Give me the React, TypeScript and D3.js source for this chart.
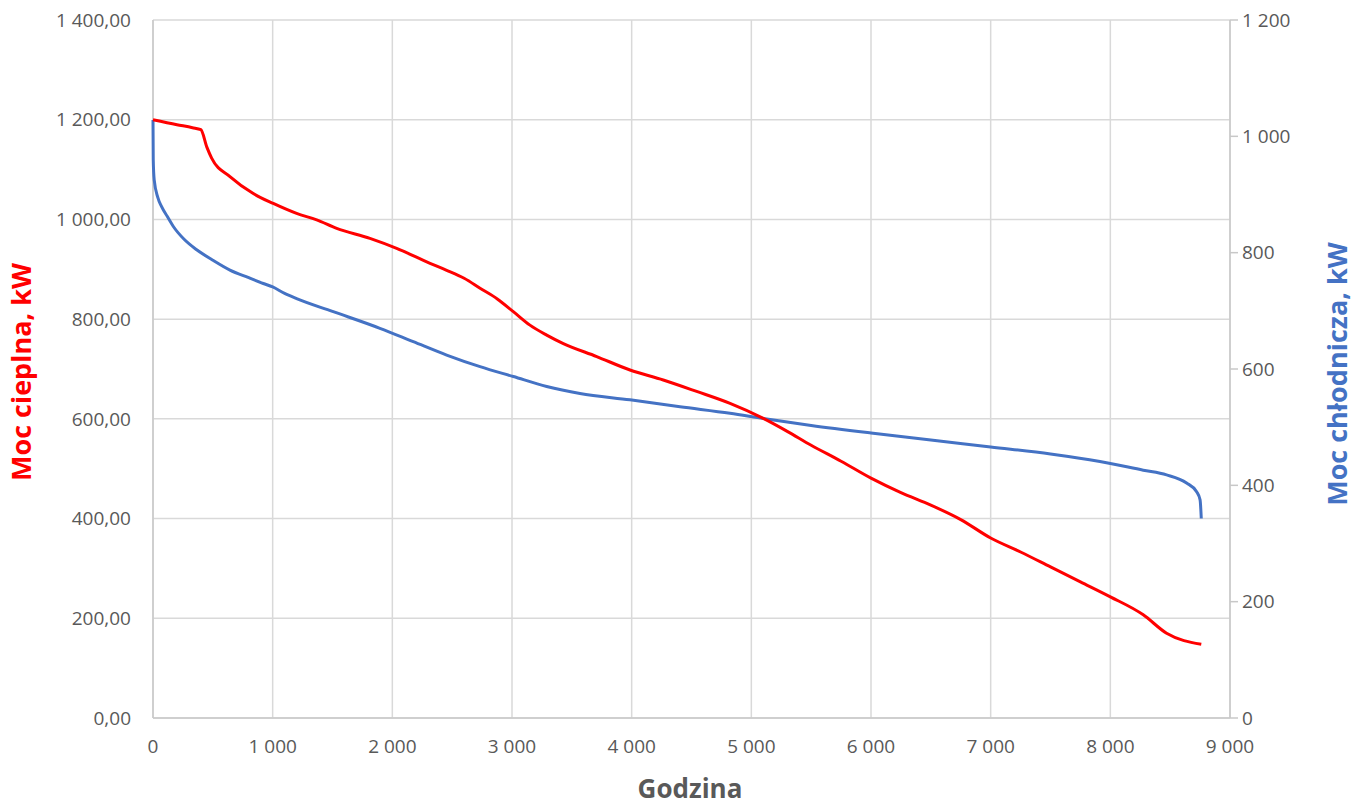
import React from "react";
import * as d3 from "d3";

const heatHours = [0, 200, 330, 400, 450, 490, 643, 838, 1005, 1200, 1368, 1535, 1813, 2036, 2315, 2454, 2600, 2733, 2880, 3011, 3150, 3290, 3429, 3708, 3986, 4264, 4543, 4822, 5100, 5300, 5500, 5750, 6000, 6250, 6500, 6750, 7000, 7250, 7500, 7750, 8000, 8275, 8470, 8760];
const heatValues = [1200, 1190, 1184, 1180, 1145, 1123, 1086, 1052, 1032, 1012, 999, 982, 962, 942, 912, 898, 882, 862, 840, 815, 788, 768, 751, 725, 698, 678, 655, 631, 601, 575, 547, 515, 481, 452, 427, 398, 361, 333, 303, 273, 243, 207, 170, 148];

const coolHours = [0, 2, 10, 40, 72, 120, 170, 260, 365, 500, 643, 800, 922, 1000, 1100, 1200, 1500, 1896, 2175, 2454, 2733, 3011, 3290, 3568, 3986, 4404, 4822, 5100, 5500, 6000, 6500, 7000, 7500, 7913, 8275, 8470, 8637, 8721, 8750, 8760];
const coolValues = [1028, 960, 925, 895, 879, 862, 845, 823, 805, 787, 770, 757, 747, 741, 730, 721, 699, 670, 647, 624, 604, 587, 570, 558, 547, 535, 524, 515, 503, 490, 478, 466, 454, 441, 426, 418, 404, 389, 375, 343];

const xTicks = [0, 1000, 2000, 3000, 4000, 5000, 6000, 7000, 8000, 9000];
const leftTicks = [0, 200, 400, 600, 800, 1000, 1200, 1400];
const rightTicks = [0, 200, 400, 600, 800, 1000, 1200];

const fmtThousands = (v: number) => {
  const s = String(Math.round(v));
  return s.replace(/\B(?=(\d{3})+(?!\d))/g, " ");
};
const fmtLeft = (v: number) => fmtThousands(v) + ",00";

export default function App() {
  const W = 1367, H = 807;
  const x = d3.scaleLinear().domain([0, 9000]).range([153, 1230]);
  const yL = d3.scaleLinear().domain([0, 1400]).range([718, 20]);
  const yR = d3.scaleLinear().domain([0, 1200]).range([718, 20]);

  const heatLine = d3.line<number>().x((d, i) => x(heatHours[i])).y((d) => yL(d)).curve(d3.curveMonotoneX);
  const coolLine = d3.line<number>().x((d, i) => x(coolHours[i])).y((d) => yR(d)).curve(d3.curveMonotoneX);

  const font = "'Open Sans', sans-serif";
  const grid = "#d9d9d9";
  const txt = "#595959";

  return (
    <svg width={W} height={H} style={{ position: "absolute", left: 0, top: 0, background: "#fff" }} fontFamily={font}>
      {leftTicks.map((t) => (
        <line key={"h" + t} x1={153} x2={1230} y1={yL(t)} y2={yL(t)} stroke={grid} strokeWidth={1.5} />
      ))}
      {xTicks.map((t) => (
        <line key={"v" + t} x1={x(t)} x2={x(t)} y1={20} y2={718} stroke={grid} strokeWidth={1.5} />
      ))}
      <line x1={153} x2={1230} y1={718} y2={718} stroke="#c8c8c8" strokeWidth={1.5} />
      <line x1={153} x2={153} y1={20} y2={718} stroke="#c8c8c8" strokeWidth={1.5} />
      <line x1={1230} x2={1230} y1={20} y2={718} stroke="#c8c8c8" strokeWidth={1.5} />
      {rightTicks.map((t) => (
        <line key={"rt" + t} x1={1230} x2={1238} y1={yR(t)} y2={yR(t)} stroke="#c8c8c8" strokeWidth={1.5} />
      ))}
      {leftTicks.map((t) => (
        <text key={"lt" + t} x={131} y={yL(t)} dy="0.35em" textAnchor="end" fontSize={19} fill={txt}>
          {fmtLeft(t)}
        </text>
      ))}
      {rightTicks.map((t) => (
        <text key={"rl" + t} x={1242} y={yR(t)} dy="0.35em" textAnchor="start" fontSize={19} fill={txt}>
          {fmtThousands(t)}
        </text>
      ))}
      {xTicks.map((t) => (
        <text key={"xl" + t} x={x(t)} y={746} dy="0.35em" textAnchor="middle" fontSize={19} fill={txt}>
          {fmtThousands(t)}
        </text>
      ))}
      <path d={coolLine(coolValues) || ""} fill="none" stroke="#4472C4" strokeWidth={3} strokeLinejoin="round" />
      <path d={heatLine(heatValues) || ""} fill="none" stroke="#FF0000" strokeWidth={3} strokeLinejoin="round" />
      <text x={690} y={789} dy="0.35em" textAnchor="middle" fontSize={26} fontWeight="bold" fill={txt}>
        Godzina
      </text>
      <text transform="translate(22,372) rotate(-90)" dy="0.35em" textAnchor="middle" fontSize={27} fontWeight="bold" fill="#FF0000">
        Moc cieplna, kW
      </text>
      <text transform="translate(1338,374) rotate(-90)" dy="0.35em" textAnchor="middle" fontSize={27} fontWeight="bold" fill="#4472C4">
        Moc chłodnicza, kW
      </text>
    </svg>
  );
}
